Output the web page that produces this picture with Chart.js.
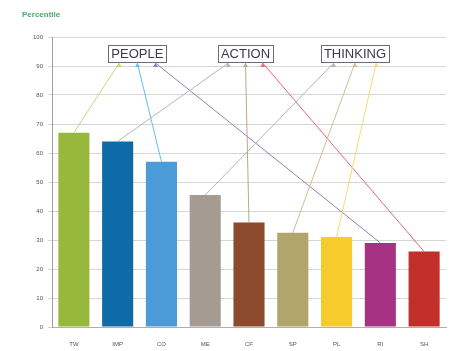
<!DOCTYPE html>
<html>
<head>
<meta charset="utf-8">
<script src="https://cdn.jsdelivr.net/npm/chart.js@4"></script>
<style>
  body { margin: 0; background: #fff; }
  #wrap { position: relative; width: 462px; height: 351px; }
  #title { position: absolute; left: 22px; top: 10px; font: bold 8px "Liberation Sans", Arial, sans-serif; color: #4aa86a; }
</style>
</head>
<body>
<div id="wrap">
  <div id="title">Percentile</div>
  <canvas id="c" width="462" height="351"></canvas>
</div>
<script>
// team role percentiles
const roles = ["TW", "IMP", "CO", "ME", "CF", "SP", "PL", "RI", "SH"];
const percentiles = [67, 64, 57, 45.5, 36, 32.5, 31, 29, 26];
const barColors = ["#97b83a", "#0f6aa8", "#4b9bd9", "#a69b92", "#8b4a2b", "#b1a56c", "#f6cb2c", "#a53282", "#c1302a"];

const groups = ["PEOPLE", "ACTION", "THINKING"];
const groupRoles = [["TW", "CO", "RI"], ["IMP", "CF", "SH"], ["ME", "SP", "PL"]];

// link styling, in the same order as groupRoles
const linkColors = [
  ["#c9d77a", "#5cc0ea", "#8c84b8"],
  ["#b4b4b4", "#b5a98a", "#e0687a"],
  ["#b4b4b4", "#cfbf8a", "#f3dc7a"]
];
const boxCenters = [1.45, 3.92, 6.42]; // category units

const groupLinks = {
  id: "groupLinks",
  afterDatasetsDraw(chart) {
    const ctx = chart.ctx;
    const x = chart.scales.x, y = chart.scales.y;
    const boxY = y.getPixelForValue(94.3);
    ctx.save();
    ctx.font = '13px "Liberation Sans", Arial, sans-serif';
    groups.forEach((g, gi) => {
      const cx = x.getPixelForValue(boxCenters[gi]);
      const w = ctx.measureText(g).width + 6;
      const h = 17;
      const top = boxY - h / 2;
      const bottom = top + h;
      // links
      groupRoles[gi].forEach((r, k) => {
        const i = roles.indexOf(r);
        const sx = cx + (k - 1) * (w / 3.2);
        const tx = x.getPixelForValue(i);
        const ty = y.getPixelForValue(percentiles[i]);
        ctx.strokeStyle = linkColors[gi][k];
        ctx.lineWidth = 1;
        ctx.beginPath();
        ctx.moveTo(sx, bottom + 1);
        ctx.lineTo(tx, ty);
        ctx.stroke();
        ctx.fillStyle = linkColors[gi][k];
        ctx.beginPath();
        ctx.moveTo(sx, bottom + 1);
        ctx.lineTo(sx - 2.5, bottom + 5);
        ctx.lineTo(sx + 2.5, bottom + 5);
        ctx.closePath();
        ctx.fill();
      });
      // box
      ctx.fillStyle = "#fff";
      ctx.fillRect(cx - w / 2, top, w, h);
      ctx.strokeStyle = "#6a6a78";
      ctx.lineWidth = 1;
      ctx.strokeRect(Math.round(cx - w / 2) + 0.5, Math.round(top) + 0.5, Math.round(w), h);
      ctx.fillStyle = "#3a3a48";
      ctx.textAlign = "center";
      ctx.textBaseline = "middle";
      ctx.fillText(g, cx, boxY + 1);
    });
    ctx.restore();
  }
};

new Chart(document.getElementById("c"), {
  type: "bar",
  data: {
    labels: roles,
    datasets: [{
      data: percentiles,
      backgroundColor: barColors,
      borderWidth: 0,
      barPercentage: 0.71,
      categoryPercentage: 1
    }]
  },
  options: {
    responsive: false,
    animation: false,
    layout: { padding: { top: 37, right: 16, bottom: 3, left: 0 } },
    plugins: { legend: { display: false }, tooltip: { enabled: false } },
    scales: {
      x: {
        grid: { display: false },
        border: { color: "#b0b0b0" },
        ticks: { color: "#555", font: { size: 6 }, padding: 6 },
        afterFit: (s) => { s.height = 21; }
      },
      y: {
        min: 0, max: 100,
        ticks: { stepSize: 10, color: "#555", font: { size: 6 }, padding: 5 },
        grid: { color: "#d6d6d6", tickLength: 4 },
        border: { color: "#a0a0a0" },
        afterFit: (s) => { s.width = 52; }
      }
    }
  },
  plugins: [groupLinks]
});
</script>
</body>
</html>
